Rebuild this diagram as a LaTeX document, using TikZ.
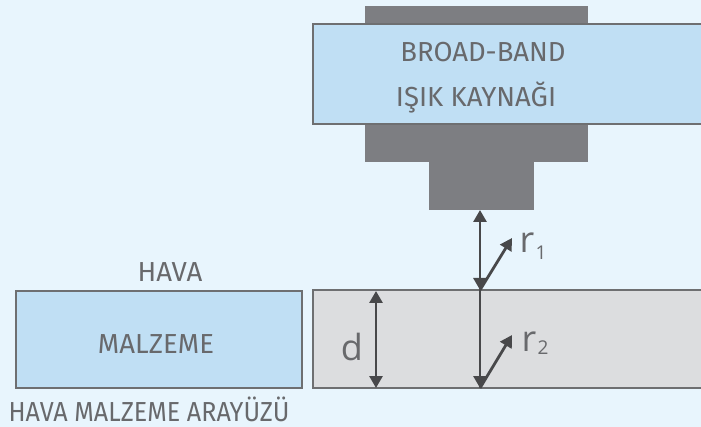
\documentclass[tikz,border=0pt]{standalone}
\usepackage{fontspec}
\setmainfont{Fira Sans}
\newfontfamily\labfont{Open Sans}
\usetikzlibrary{arrows.meta}
\definecolor{bgc}{RGB}{232,245,253}
\definecolor{bluec}{RGB}{192,223,244}
\definecolor{darkg}{RGB}{125,126,130}
\definecolor{slabc}{RGB}{220,221,223}
\definecolor{edgec}{RGB}{110,111,113}
\definecolor{txtc}{RGB}{104,105,108}
\definecolor{arrc}{RGB}{72,72,74}
\tikzset{
  capt/.style={text=txtc,font=\fontsize{27.5}{32}\selectfont,anchor=base,inner sep=0pt,text depth=0pt},
  lab/.style={text=txtc,font=\labfont\fontsize{36}{40}\selectfont,anchor=base,inner sep=0pt},
  sublab/.style={text=txtc,font=\labfont\fontsize{19}{22}\selectfont,anchor=base,inner sep=0pt},
  boxline/.style={draw=edgec,line width=2pt},
  arr/.style={draw=arrc,line width=2.8pt,-{Triangle[length=12pt,width=13pt]}},
  darr/.style={draw=arrc,line width=2.8pt,{Triangle[length=12pt,width=13pt]}-{Triangle[length=12pt,width=13pt]}}
}
\begin{document}
\begin{tikzpicture}[x=1pt,y=-1pt]
\fill[bgc] (0,0) rectangle (701,427);
\useasboundingbox (0,0) rectangle (701,427);
% source
\fill[darkg] (365,6) rectangle (588,162);
\fill[darkg] (429,160) rectangle (534,210);
\draw[boxline,fill=bluec] (313,24) rectangle (702,124);
\node[capt] (bb) at (483,62) {BROAD-BAND};
\node[capt] (ik) at (476,107) {IŞIK KAYNAĞI};
% material boxes
\draw[boxline,fill=bluec] (16,291) rectangle (302,388);
\draw[boxline,fill=slabc] (313,290) rectangle (702,388);
\node[capt] (hava) at (170,282) {HAVA};
\node[capt] (malz) at (156,353) {MALZEME};
\node[capt] (aray) at (149,421) {\scalebox{0.913}[1]{HAVA MALZEME ARAYÜZÜ}};
% arrow points
\coordinate (src) at (480,210);
\coordinate (surf) at (480,290);
\coordinate (bot) at (480,388);
\coordinate (r1e) at (512,238);
\coordinate (r2e) at (512,335);
\coordinate (dtop) at (376,291);
\coordinate (dbot) at (376,388);
\draw[darr] (src) -- (surf);
\draw[arr] (surf) -- (bot);
\draw[arr] (surf) -- (r1e);
\draw[arr] (bot) -- (r2e);
\draw[darr] (dtop) -- (dbot);
\node[lab] (d) at (352,360) {d};
\node[lab] (r1) at (527,253) {r};
\node[sublab] (s1) at (541,260) {1};
\node[lab] (r2) at (529,352) {r};
\node[sublab] (s2) at (543,355) {2};
\end{tikzpicture}
\end{document}
